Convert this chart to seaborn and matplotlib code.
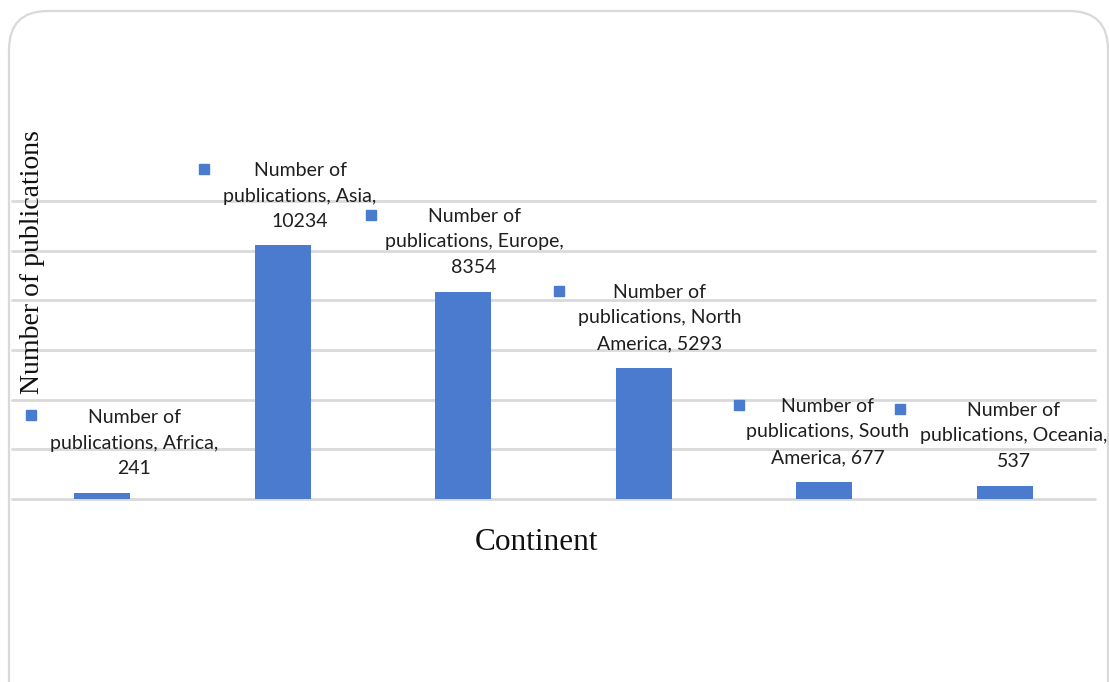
import matplotlib
matplotlib.use("Agg")
import matplotlib.pyplot as plt
from matplotlib.patches import FancyBboxPatch
import seaborn as sns
import pandas as pd

# Publications per continent
continents = ["Africa", "Asia", "Europe", "North America", "South America", "Oceania"]
publications = [241, 10234, 8354, 5293, 677, 537]
series_name = "Number of publications"

# How each data label breaks onto three lines
label_lines = [
    ["Number of", "publications, Africa,", "241"],
    ["Number of", "publications, Asia,", "10234"],
    ["Number of", "publications, Europe,", "8354"],
    ["Number of", "publications, North", "America, 5293"],
    ["Number of", "publications, South", "America, 677"],
    ["Number of", "publications, Oceania,", "537"],
]

BAR_COLOR = "#4a7bcf"
GRID_COLOR = "#d9d9d9"

sns.set_theme(style="white")
plt.rcParams["font.family"] = ["Lato", "DejaVu Sans"]

fig = plt.figure(figsize=(11.09, 6.82), dpi=100)
W, H = 1109, 682

# Rounded outer frame
frame = FancyBboxPatch((9 / W, -0.1), (1108 - 9) / W, (682 - 11) / H + 0.1,
                       boxstyle="round,pad=0,rounding_size=0.035",
                       transform=fig.transFigure, fill=False,
                       edgecolor=GRID_COLOR, linewidth=1.6, mutation_aspect=W / H)
fig.patches.append(frame)

ax = fig.add_axes([12 / W, (H - 499) / H, (1095 - 12) / W, (499 - 201) / H])

df = pd.DataFrame({"Continent": continents, series_name: publications})
sns.barplot(data=df, x="Continent", y=series_name, color=BAR_COLOR,
            saturation=1, width=0.31, linewidth=0, ax=ax, zorder=3)

ax.set_xlim(-0.5, 5.5)
ax.set_ylim(0, 12000)
ax.set_yticks(range(0, 12001, 2000))
ax.yaxis.grid(True, color=GRID_COLOR, linewidth=2)
for gl in ax.get_ygridlines():
    gl.set_clip_on(False)
ax.set_axisbelow(True)
ax.tick_params(left=False, bottom=False, labelleft=False, labelbottom=False)
for s in ax.spines.values():
    s.set_visible(False)
ax.set_xlabel("")
ax.set_ylabel("")

# Data labels with legend key
text_dx = [0.176, 0.096, 0.06, 0.09, 0.02, 0.05]
text_y = [2255, 12200, 10349, 7289, 2698, 2537]
key_dx = [-0.395, -0.436, -0.511, -0.47, -0.472, -0.58]
key_y = [3383, 13289, 11437, 8376, 3785, 3624]
for i, lines in enumerate(label_lines):
    ax.text(i + text_dx[i], text_y[i], "\n".join(lines), ha="center", va="center",
            multialignment="center", fontsize=14, color="#1f1f1f",
            linespacing=1.62, clip_on=False, zorder=5)
    ax.plot([i + key_dx[i]], [key_y[i]], marker="s", markersize=7.5,
            color=BAR_COLOR, clip_on=False, zorder=5)

fig.text(537 / W, 1 - 542 / H, "Continent", ha="center", va="center",
         family="Liberation Serif", fontsize=22.5, color="#111111")
fig.text(33 / W, 1 - 262 / H, "Number of publications", ha="center", va="center",
         rotation=90, family="Liberation Serif", fontsize=20, color="#111111")

fig.savefig("out.png", dpi=100, facecolor="white")
